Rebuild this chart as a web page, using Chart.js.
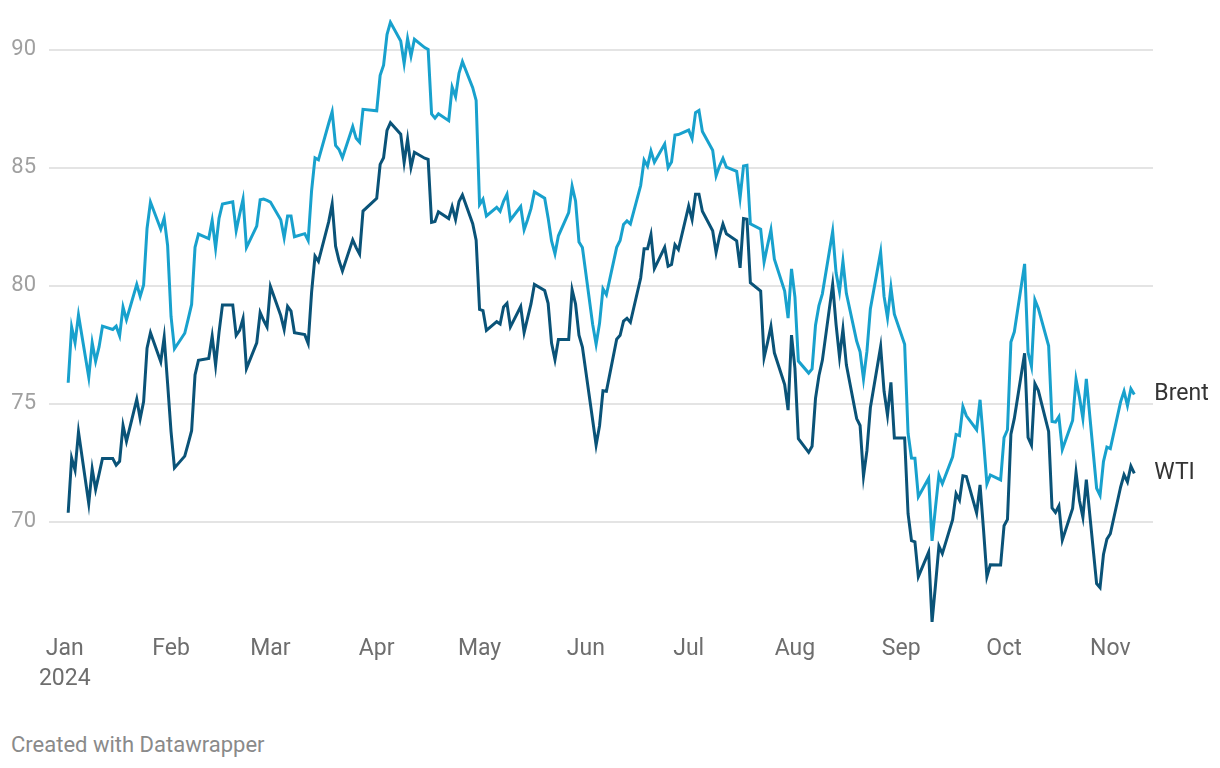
<!DOCTYPE html>
<html>
<head>
<meta charset="utf-8">
<title>Brent and WTI, 2024</title>
<script src="https://cdn.jsdelivr.net/npm/chart.js@4.4.1/dist/chart.umd.min.js"></script>
<style>
  html, body { margin: 0; padding: 0; background: #fff; }
  body { width: 1220px; height: 768px; position: relative; overflow: hidden; font-family: Roboto, sans-serif; }
  #wrap { position: absolute; left: 0; top: 0; width: 1220px; height: 700px; }
  #credit { position: absolute; left: 11px; top: 734px; font-size: 22px; line-height: 22px; color: #8a8a8a; }
</style>
</head>
<body>
<div id="wrap"><canvas id="oilChart"></canvas></div>
<div id="credit">Created with Datawrapper</div>
<script>
// trading days (Jan 2 – Nov 8, 2024)
const dates = [
  "2024-01-02","2024-01-03","2024-01-04","2024-01-05","2024-01-08","2024-01-09","2024-01-10","2024-01-11","2024-01-12","2024-01-15","2024-01-16","2024-01-17","2024-01-18","2024-01-19","2024-01-22","2024-01-23","2024-01-24","2024-01-25","2024-01-26","2024-01-29","2024-01-30","2024-01-31",
  "2024-02-01","2024-02-02","2024-02-05","2024-02-06","2024-02-07","2024-02-08","2024-02-09","2024-02-12","2024-02-13","2024-02-14","2024-02-15","2024-02-16","2024-02-19","2024-02-20","2024-02-21","2024-02-22","2024-02-23","2024-02-26","2024-02-27","2024-02-28","2024-02-29",
  "2024-03-01","2024-03-04","2024-03-05","2024-03-06","2024-03-07","2024-03-08","2024-03-11","2024-03-12","2024-03-13","2024-03-14","2024-03-15","2024-03-18","2024-03-19","2024-03-20","2024-03-21","2024-03-22","2024-03-25","2024-03-26","2024-03-27","2024-03-28",
  "2024-04-01","2024-04-02","2024-04-03","2024-04-04","2024-04-05","2024-04-08","2024-04-09","2024-04-10","2024-04-11","2024-04-12","2024-04-15","2024-04-16","2024-04-17","2024-04-18","2024-04-19","2024-04-22","2024-04-23","2024-04-24","2024-04-25","2024-04-26","2024-04-29","2024-04-30",
  "2024-05-01","2024-05-02","2024-05-03","2024-05-06","2024-05-07","2024-05-08","2024-05-09","2024-05-10","2024-05-13","2024-05-14","2024-05-15","2024-05-16","2024-05-17","2024-05-20","2024-05-21","2024-05-22","2024-05-23","2024-05-24","2024-05-27","2024-05-28","2024-05-29","2024-05-30","2024-05-31",
  "2024-06-03","2024-06-04","2024-06-05","2024-06-06","2024-06-07","2024-06-10","2024-06-11","2024-06-12","2024-06-13","2024-06-14","2024-06-17","2024-06-18","2024-06-19","2024-06-20","2024-06-21","2024-06-24","2024-06-25","2024-06-26","2024-06-27","2024-06-28",
  "2024-07-01","2024-07-02","2024-07-03","2024-07-04","2024-07-05","2024-07-08","2024-07-09","2024-07-10","2024-07-11","2024-07-12","2024-07-15","2024-07-16","2024-07-17","2024-07-18","2024-07-19","2024-07-22","2024-07-23","2024-07-24","2024-07-25","2024-07-26","2024-07-29","2024-07-30","2024-07-31",
  "2024-08-01","2024-08-02","2024-08-05","2024-08-06","2024-08-07","2024-08-08","2024-08-09","2024-08-12","2024-08-13","2024-08-14","2024-08-15","2024-08-16","2024-08-19","2024-08-20","2024-08-21","2024-08-22","2024-08-23","2024-08-26","2024-08-27","2024-08-28","2024-08-29","2024-08-30",
  "2024-09-02","2024-09-03","2024-09-04","2024-09-05","2024-09-06","2024-09-09","2024-09-10","2024-09-11","2024-09-12","2024-09-13","2024-09-16","2024-09-17","2024-09-18","2024-09-19","2024-09-20","2024-09-23","2024-09-24","2024-09-25","2024-09-26","2024-09-27","2024-09-30",
  "2024-10-01","2024-10-02","2024-10-03","2024-10-04","2024-10-07","2024-10-08","2024-10-09","2024-10-10","2024-10-11","2024-10-14","2024-10-15","2024-10-16","2024-10-17","2024-10-18","2024-10-21","2024-10-22","2024-10-23","2024-10-24","2024-10-25","2024-10-28","2024-10-29","2024-10-30","2024-10-31",
  "2024-11-01","2024-11-04","2024-11-05","2024-11-06","2024-11-07","2024-11-08"
];

const brent = [
  75.89, 78.25, 77.59, 78.76, 76.12, 77.59, 76.80, 77.41, 78.29, 78.15, 78.29, 77.88, 79.10, 78.56, 80.06, 79.55, 80.04, 82.43, 83.55, 82.40, 82.87, 81.71,
  78.70, 77.33, 77.99, 78.59, 79.21, 81.63, 82.19, 82.00, 82.77, 81.60, 82.86, 83.47, 83.56, 82.34, 83.03, 83.67, 81.62, 82.53, 83.65, 83.68, 83.62,
  83.55, 82.80, 82.04, 82.96, 82.96, 82.08, 82.21, 81.92, 84.03, 85.42, 85.34, 86.89, 87.38, 85.95, 85.78, 85.43, 86.75, 86.25, 86.09, 87.48,
  87.42, 88.92, 89.35, 90.65, 91.17, 90.38, 89.42, 90.48, 89.74, 90.45, 90.10, 90.02, 87.29, 87.11, 87.29, 87.00, 88.42, 88.02, 89.01, 89.50, 88.40, 87.86,
  83.44, 83.67, 82.96, 83.33, 83.16, 83.58, 83.88, 82.79, 83.36, 82.38, 82.80, 83.27, 83.98, 83.71, 82.88, 81.90, 81.36, 82.12, 83.10, 84.22, 83.60, 81.86, 81.62,
  78.36, 77.52, 78.41, 79.87, 79.62, 81.63, 81.92, 82.60, 82.75, 82.62, 84.25, 85.33, 85.07, 85.71, 85.24, 86.01, 85.01, 85.25, 86.39, 86.41,
  86.60, 86.24, 87.34, 87.43, 86.54, 85.75, 84.66, 85.08, 85.40, 85.03, 84.85, 83.73, 85.08, 85.11, 82.63, 82.40, 81.01, 81.71, 82.37, 81.13, 79.78, 78.63, 80.72,
  79.52, 76.81, 76.30, 76.48, 78.33, 79.16, 79.66, 82.30, 80.55, 79.76, 81.04, 79.68, 77.66, 77.20, 76.05, 77.22, 79.02, 81.43, 79.55, 78.65, 79.94, 78.80,
  77.52, 73.75, 72.70, 72.69, 71.06, 71.84, 69.19, 70.61, 71.97, 71.61, 72.75, 73.70, 73.65, 74.88, 74.49, 73.90, 75.17, 73.46, 71.60, 71.98, 71.77,
  73.56, 73.90, 77.62, 78.05, 80.93, 77.18, 76.58, 79.40, 79.04, 77.46, 74.25, 74.22, 74.45, 73.06, 74.29, 76.04, 75.28, 74.38, 76.05, 71.42, 71.12, 72.55, 73.16,
  73.10, 75.08, 75.53, 74.92, 75.63, 75.39
];

const wti = [
  70.38, 72.70, 72.19, 73.81, 70.77, 72.24, 71.37, 72.02, 72.68, 72.68, 72.40, 72.56, 74.08, 73.41, 75.19, 74.37, 75.09, 77.36, 78.01, 76.78, 77.82, 75.85,
  73.82, 72.28, 72.78, 73.31, 73.86, 76.22, 76.84, 76.92, 77.87, 76.64, 78.03, 79.19, 79.19, 77.90, 78.11, 78.61, 76.49, 77.58, 78.87, 78.54, 78.26,
  79.97, 78.74, 78.15, 79.13, 78.93, 78.01, 77.93, 77.56, 79.72, 81.26, 81.04, 82.72, 83.47, 81.68, 81.07, 80.63, 81.95, 81.62, 81.35, 83.17,
  83.71, 85.15, 85.43, 86.59, 86.91, 86.43, 85.23, 86.21, 85.02, 85.66, 85.41, 85.36, 82.69, 82.73, 83.14, 82.85, 83.36, 82.81, 83.57, 83.85, 82.63, 81.93,
  79.00, 78.95, 78.11, 78.48, 78.38, 79.10, 79.26, 78.26, 79.12, 78.02, 78.63, 79.23, 80.06, 79.80, 79.26, 77.57, 76.87, 77.72, 77.72, 79.83, 79.23, 77.91, 77.40,
  74.30, 73.25, 74.07, 75.55, 75.53, 77.74, 77.90, 78.50, 78.62, 78.45, 80.33, 81.57, 81.57, 82.17, 80.73, 81.63, 80.83, 80.90, 81.74, 81.54,
  83.38, 82.81, 83.88, 83.88, 83.16, 82.33, 81.41, 82.10, 82.62, 82.21, 81.91, 80.76, 82.85, 82.82, 80.13, 79.78, 76.96, 77.59, 78.28, 77.16, 75.81, 74.73, 77.91,
  76.50, 73.52, 72.94, 73.20, 75.23, 76.19, 76.84, 80.06, 78.35, 76.98, 78.16, 76.65, 74.37, 74.08, 71.93, 73.01, 74.83, 77.42, 75.53, 74.52, 75.91, 73.55,
  73.55, 70.34, 69.20, 69.15, 67.67, 68.71, 65.75, 67.31, 68.97, 68.65, 70.09, 71.19, 70.91, 71.95, 71.92, 70.37, 71.56, 69.69, 67.67, 68.18, 68.17,
  69.83, 70.10, 73.71, 74.38, 77.14, 73.57, 73.24, 75.85, 75.56, 73.83, 70.58, 70.39, 70.67, 69.22, 70.56, 72.09, 70.90, 70.19, 71.78, 67.38, 67.21, 68.61, 69.26,
  69.49, 71.47, 71.99, 71.69, 72.36, 72.05
];

// axis ticks
const monthStarts = ["2024-01-01","2024-02-01","2024-03-01","2024-04-01","2024-05-01","2024-06-01","2024-07-01","2024-08-01","2024-09-01","2024-10-01","2024-11-01"];
const monthLabels = ["Jan","Feb","Mar","Apr","May","Jun","Jul","Aug","Sep","Oct","Nov"];
const yearLabel = "2024";
const yTicks = [70, 75, 80, 85, 90];

// days since Jan 1 -> x value on a linear scale
function dayNum(str) {
  const [y, m, d] = str.split("-").map(Number);
  return (Date.UTC(y, m - 1, d) - Date.UTC(2024, 0, 1)) / 86400000;
}

const monthDays = monthStarts.map(dayNum);

function toPoints(values) {
  return dates.map((d, i) => ({ x: dayNum(d), y: values[i] }));
}

// series name next to the last point
const endLabels = {
  id: "endLabels",
  afterDatasetsDraw(chart) {
    const ctx = chart.ctx;
    ctx.save();
    ctx.font = "23px Roboto";
    ctx.fillStyle = "#333333";
    ctx.textBaseline = "middle";
    ctx.textAlign = "left";
    chart.data.datasets.forEach((ds, i) => {
      const pts = chart.getDatasetMeta(i).data;
      const last = pts[pts.length - 1];
      ctx.fillText(ds.label, last.x + 20, last.y);
    });
    ctx.restore();
  }
};

Chart.defaults.font.family = "Roboto";

new Chart(document.getElementById("oilChart"), {
  type: "line",
  data: {
    datasets: [
      {
        label: "Brent",
        data: toPoints(brent),
        borderColor: "#18a1cd",
        borderWidth: 3,
        pointRadius: 0,
        tension: 0,
        fill: false,
      },
      {
        label: "WTI",
        data: toPoints(wti),
        borderColor: "#0a5378",
        borderWidth: 3,
        pointRadius: 0,
        tension: 0,
        fill: false,
      },
    ],
  },
  options: {
    responsive: true,
    maintainAspectRatio: false,
    animation: false,
    events: [],
    layout: { padding: { left: 0, right: 67, top: 19, bottom: 0 } },
    plugins: {
      legend: { display: false },
      tooltip: { enabled: false },
    },
    scales: {
      x: {
        type: "linear",
        min: -4.6,
        max: 317.45,
        grid: { display: false, drawTicks: false },
        border: { display: false },
        afterBuildTicks: (scale) => {
          scale.ticks = monthDays.map((v) => ({ value: v }));
        },
        afterFit: (scale) => {
          scale.height = 70;
          scale.paddingLeft = 0;
          scale.paddingRight = 0;
        },
        ticks: {
          autoSkip: false,
          maxRotation: 0,
          padding: 4,
          color: "#6e6e6e",
          font: { size: 23, lineHeight: 1.3 },
          callback: (value, index) =>
            index === 0 ? [monthLabels[0], yearLabel] : monthLabels[index],
        },
      },
      y: {
        min: 65.41,
        max: 91.31,
        grid: { color: "#e4e4e4", lineWidth: 2, drawTicks: false },
        border: { display: false },
        afterBuildTicks: (scale) => {
          scale.ticks = yTicks.map((v) => ({ value: v }));
        },
        afterFit: (scale) => {
          scale.width = 49;
          scale.paddingTop = 0;
          scale.paddingBottom = 0;
        },
        ticks: {
          padding: 13,
          color: "#a0a0a0",
          font: { size: 22 },
        },
      },
    },
  },
  plugins: [endLabels],
});
</script>
</body>
</html>
